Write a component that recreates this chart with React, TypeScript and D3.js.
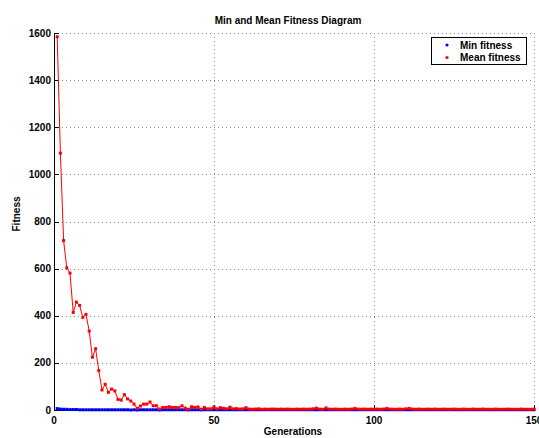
import React, { useEffect, useRef } from 'react';
import * as d3 from 'd3';

// mean fitness per generation (1..150)
const meanFitness = [
  1584, 1090, 719, 603, 581, 414, 458, 444, 393, 406,
  335, 224, 260, 167, 85, 109, 75, 89, 81, 45,
  42, 65, 47, 38, 25, 7, 17, 25, 25, 34,
  18, 18, 4, 11, 11, 14, 11, 11, 10, 18,
  8, 3, 14, 11, 13, 3, 11, 5, 5, 13,
  5, 10, 7, 5, 12, 5, 6, 4, 5, 10,
  4, 3, 4, 5, 3, 4, 3, 4, 4, 3,
  4, 3, 4, 3, 3, 4, 3, 4, 3, 4,
  5, 8, 4, 3, 9, 4, 3, 4, 3, 3,
  4, 3, 4, 7, 4, 3, 4, 3, 4, 3,
  4, 3, 4, 7, 4, 3, 3, 4, 3, 5,
  7, 4, 3, 4, 3, 3, 4, 3, 4, 3,
  3, 4, 3, 3, 4, 3, 3, 4, 3, 3,
  4, 3, 3, 4, 3, 3, 3, 4, 3, 3,
  3, 4, 3, 3, 3, 4, 3, 3, 3, 4,
];

// min fitness per generation, stays close to zero
const minFitness = [
  6, 4, 3, 3, 2, 2, 2, 1, 1, 1,
  1, 1, 1, 1, 1, 1, 1, 1, 1, 1,
  1, 1, 1, 0, 1, 0, 1, 1, 1, 1,
  1, 1, 0, 1, 1, 1, 1, 1, 1, 1,
  1, 0, 1, 1, 1, 0, 1, 1, 1, 1,
  1, 1, 1, 1, 1, 1, 1, 1, 1, 1,
  1, 1, 1, 1, 1, 1, 1, 1, 1, 1,
  1, 1, 1, 1, 1, 1, 1, 1, 1, 1,
  1, 1, 1, 1, 1, 1, 1, 1, 1, 1,
  1, 1, 1, 1, 1, 1, 1, 1, 1, 1,
  1, 1, 1, 1, 1, 1, 1, 1, 1, 1,
  1, 1, 1, 1, 1, 1, 1, 1, 1, 1,
  1, 1, 1, 1, 1, 1, 1, 1, 1, 1,
  1, 1, 1, 1, 1, 1, 1, 1, 1, 1,
  1, 1, 1, 1, 1, 1, 1, 1, 1, 1,
];

const xTicks = [0, 50, 100, 150];
const yTicks = [0, 200, 400, 600, 800, 1000, 1200, 1400, 1600];
const seriesNames = ['Min fitness', 'Mean fitness'];
const seriesColors = ['#0000ff', '#ff0000'];

function App() {
  const ref = useRef<SVGSVGElement>(null);

  const width = 539;
  const height = 438;
  const margin = { left: 54, right: 5, top: 33, bottom: 28 };

  useEffect(() => {
    if (!ref.current) return;
    const svg = d3.select(ref.current);
    svg.selectAll('*').remove();

    const x = d3.scaleLinear().domain([0, 150]).range([margin.left, width - margin.right]);
    const y = d3.scaleLinear().domain([0, 1600]).range([height - margin.bottom, margin.top]);
    const font = 'Liberation Sans, Arial, Helvetica, sans-serif';

    svg.append('rect').attr('width', width).attr('height', height).attr('fill', 'white');

    // dotted grid
    const grid = svg.append('g').attr('stroke', '#888').attr('stroke-dasharray', '1,3').attr('stroke-width', 1);
    grid.selectAll('.gx').data(xTicks.filter(d => d > 0)).join('line')
      .attr('x1', d => Math.round(x(d)) + 0.5).attr('x2', d => Math.round(x(d)) + 0.5)
      .attr('y1', y(0)).attr('y2', y(1600));
    grid.selectAll('.gy').data(yTicks.filter(d => d > 0)).join('line')
      .attr('y1', d => Math.round(y(d)) + 0.5).attr('y2', d => Math.round(y(d)) + 0.5)
      .attr('x1', x(0)).attr('x2', x(150));

    // axes lines (box off)
    const ax = svg.append('g').attr('stroke', 'black').attr('stroke-width', 1);
    ax.append('line').attr('x1', x(0) + 0.5).attr('x2', x(0) + 0.5).attr('y1', y(1600)).attr('y2', y(0) + 0.5);
    ax.append('line').attr('x1', x(0)).attr('x2', x(150)).attr('y1', y(0) + 0.5).attr('y2', y(0) + 0.5);
    ax.selectAll('.tx').data(xTicks).join('line')
      .attr('x1', d => Math.round(x(d)) + 0.5).attr('x2', d => Math.round(x(d)) + 0.5)
      .attr('y1', y(0)).attr('y2', y(0) - 5);
    ax.selectAll('.ty').data(yTicks).join('line')
      .attr('y1', d => Math.round(y(d)) + 0.5).attr('y2', d => Math.round(y(d)) + 0.5)
      .attr('x1', x(0)).attr('x2', x(0) + 5);

    // tick labels
    svg.append('g').selectAll('text').data(xTicks).join('text')
      .attr('x', d => x(d)).attr('y', y(0) + 14)
      .attr('text-anchor', 'middle')
      .attr('font-family', font).attr('font-size', 10).attr('font-weight', 'bold')
      .text(d => d);
    svg.append('g').selectAll('text').data(yTicks).join('text')
      .attr('x', x(0) - 3).attr('y', d => y(d) + 3.5)
      .attr('text-anchor', 'end')
      .attr('font-family', font).attr('font-size', 10).attr('font-weight', 'bold')
      .text(d => d);

    // series
    const series = [minFitness, meanFitness];
    series.forEach((vals, i) => {
      const pts = vals.map((v, k) => [x(k + 1), y(v)] as [number, number]);
      svg.append('path')
        .attr('d', d3.line()(pts))
        .attr('fill', 'none')
        .attr('stroke', seriesColors[i])
        .attr('stroke-width', 1);
      svg.append('g').selectAll('rect').data(pts).join('rect')
        .attr('x', d => d[0] - 1.5).attr('y', d => d[1] - 1.5)
        .attr('width', 3).attr('height', 3)
        .attr('fill', seriesColors[i]);
    });

    // legend
    const lg = svg.append('g');
    lg.append('rect')
      .attr('x', 431.5).attr('y', 37.5).attr('width', 95).attr('height', 27)
      .attr('fill', 'white').attr('stroke', 'black').attr('stroke-width', 1);
    seriesNames.forEach((name, i) => {
      lg.append('circle').attr('cx', 447).attr('cy', 45 + i * 12.5).attr('r', 1.6).attr('fill', seriesColors[i]);
      lg.append('text')
        .attr('x', 460).attr('y', 48.5 + i * 12.5)
        .attr('font-family', font).attr('font-size', 10).attr('font-weight', 'bold')
        .text(name);
    });

    // titles
    svg.append('text')
      .attr('x', 288).attr('y', 24)
      .attr('text-anchor', 'middle')
      .attr('font-family', font).attr('font-size', 10).attr('font-weight', 'bold')
      .text('Min and Mean Fitness Diagram');
    svg.append('text')
      .attr('x', 293).attr('y', 435)
      .attr('text-anchor', 'middle')
      .attr('font-family', font).attr('font-size', 10).attr('font-weight', 'bold')
      .text('Generations');
    svg.append('text')
      .attr('transform', 'translate(20,214) rotate(-90)')
      .attr('text-anchor', 'middle')
      .attr('font-family', font).attr('font-size', 10).attr('font-weight', 'bold')
      .text('Fitness');
  }, []);

  return (
    <svg
      ref={ref}
      width={width}
      height={height}
      style={{ position: 'absolute', left: 0, top: 0, display: 'block' }}
    />
  );
}

export default App;
